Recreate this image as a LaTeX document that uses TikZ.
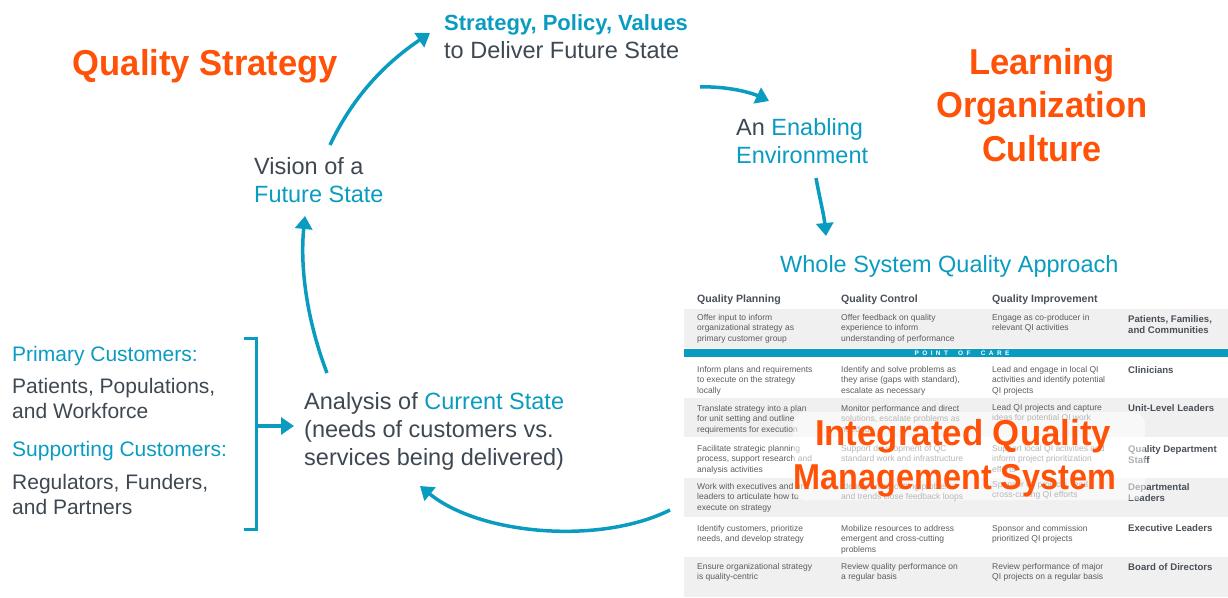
\documentclass[tikz,border=0pt]{standalone}
\usepackage{fontspec}
\usepackage{graphicx}
\setmainfont{Liberation Sans}
\usetikzlibrary{arrows.meta}
\definecolor{qorange}{HTML}{FF5208}
\definecolor{qteal}{HTML}{0A9CC0}
\definecolor{qgray}{HTML}{3E4852}
\definecolor{tgray}{HTML}{5C5C5C}
\definecolor{rowgray}{HTML}{F0F0F0}
\definecolor{lblgray}{HTML}{4A5058}
\tikzset{
  bigtitle/.style={font=\bfseries\fontsize{36}{44}\selectfont, text=qorange, inner sep=0, anchor=base},
  body/.style={font=\fontsize{23.5}{28}\selectfont, text=qgray, inner sep=0, anchor=base west},
  cust/.style={font=\fontsize{21}{25}\selectfont, text=qgray, inner sep=0, anchor=base west},
  hdr/.style={font=\bfseries\fontsize{10.6}{12}\selectfont, text=lblgray, inner sep=0, anchor=base west},
  cell/.style={font=\fontsize{8.5}{10.4}\selectfont, text=tgray, inner sep=0, anchor=north west, align=left},
  rlabel/.style={font=\bfseries\fontsize{9.6}{11.2}\selectfont, text=lblgray, inner sep=0, anchor=north west, align=left},
  flow/.style={qteal, line width=3.5pt, -{Triangle[length=13pt,width=17pt]}},
  bracket/.style={qteal, line width=3pt},
}
\newcommand{\tl}[1]{\textcolor{qteal}{#1}}
\newcommand{\sx}[2]{\scalebox{#1}[1]{#2}}
\newcommand{\lsp}{\hspace{3.4pt}}
\newcommand{\wsp}{\hspace{10.2pt}}
\begin{document}
\begin{tikzpicture}[x=1pt,y=-1pt]
\useasboundingbox (0,0) rectangle (1228,597);
% table background
\fill[rowgray] (684,309) rectangle (1228,348);
\fill[qteal] (684,349) rectangle (1228,357);
\fill[rowgray] (684,398) rectangle (1228,437);
\fill[rowgray] (684,478) rectangle (1228,517);
\fill[rowgray] (684,557) rectangle (1228,597);
\node[font=\bfseries\fontsize{6.5}{7}\selectfont, text=white, inner sep=0] (poc) at (962,353) {P\lsp O\lsp I\lsp N\lsp T\wsp O\lsp F\wsp C\lsp A\lsp R\lsp E};
% headers
\node[hdr] (h1) at (697,302.5) {Quality Planning};
\node[hdr] (h2) at (841,302.5) {Quality Control};
\node[hdr] (h3) at (992,302.5) {Quality Improvement};
% row 1
\node[cell] (c11) at (697,314) {Offer input to inform\\organizational strategy as\\primary customer group};
\node[cell] (c12) at (841,314) {Offer feedback on quality\\experience to inform\\understanding of performance};
\node[cell] (c13) at (992,314) {Engage as co-producer in\\relevant QI activities};
\node[rlabel] (r1) at (1128,315) {Patients, Families,\\and Communities};
% row 2
\node[cell] (c21) at (697,366) {Inform plans and requirements\\to execute on the strategy\\locally};
\node[cell] (c22) at (841,366) {Identify and solve problems as\\they arise (gaps with standard),\\escalate as necessary};
\node[cell] (c23) at (992,366) {Lead and engage in local QI\\activities and identify potential\\QI projects};
\node[rlabel] (r2) at (1128,366) {Clinicians};
% row 3
\node[cell] (c31) at (697,405) {Translate strategy into a plan\\for unit setting and outline\\requirements for execution};
\node[cell] (c32) at (841,405) {Monitor performance and direct\\solutions, escalate problems as\\needed};
\node[cell] (c33) at (992,404) {Lead QI projects and capture\\ideas for potential QI work};
\node[rlabel] (r3) at (1128,404) {Unit-Level Leaders};
% row 4
\node[cell] (c41) at (697,445) {Facilitate strategic planning\\process, support research and\\analysis activities};
\node[cell] (c42) at (841,445) {Support development of QC\\standard work and infrastructure};
\node[cell] (c43) at (992,445) {Support local QI activities and\\inform project prioritization\\efforts};
\node[rlabel] (r4) at (1128,445) {Quality Department\\Staff};
% row 5
\node[cell] (c51) at (697,483) {Work with executives and unit\\leaders to articulate how to\\execute on strategy};
\node[cell] (c52) at (841,483) {Identify cross-cutting problems\\and trends close feedback loops};
\node[cell] (c53) at (992,481) {Sponsor QI projects, lead\\cross-cutting QI efforts};
\node[rlabel] (r5) at (1128,483) {Departmental\\Leaders};
% row 6
\node[cell] (c61) at (697,525) {Identify customers, prioritize\\needs, and develop strategy};
\node[cell] (c62) at (841,525) {Mobilize resources to address\\emergent and cross-cutting\\problems};
\node[cell] (c63) at (992,525) {Sponsor and commission\\prioritized QI projects};
\node[rlabel] (r6) at (1128,524) {Executive Leaders};
% row 7
\node[cell] (c71) at (697,563) {Ensure organizational strategy\\is quality-centric};
\node[cell] (c72) at (841,563) {Review quality performance on\\a regular basis};
\node[cell] (c73) at (992,563) {Review performance of major\\QI projects on a regular basis};
\node[rlabel] (r7) at (1128,563) {Board of Directors};
% glow behind IQMS
\fill[white, opacity=0.55, rounded corners=12pt] (793,412) rectangle (1145,500);
\node[bigtitle] (iq1) at (963,445) {\sx{0.967}{Integrated Quality}};
\node[bigtitle] (iq2) at (955,489) {\sx{0.90}{Management System}};
% titles
\node[bigtitle] (qs) at (205.5,75) {\sx{0.96}{Quality Strategy}};
\node[bigtitle] (lo1) at (1042,74) {\sx{0.96}{Learning}};
\node[bigtitle] (lo2) at (1042,117) {\sx{0.96}{Organization}};
\node[bigtitle] (lo3) at (1042,161) {\sx{0.95}{Culture}};
% body texts
\node[body, font=\fontsize{22}{28}\selectfont\bfseries, text=qteal] (spv) at (444,30) {Strategy, Policy, Values};
\node[body] (tdf) at (444,58) {to Deliver Future State};
\node[body] (vis1) at (254,174) {Vision of a};
\node[body, text=qteal] (vis2) at (254,202) {Future State};
\node[body] (en1) at (736,135) {An \tl{Enabling}};
\node[body, text=qteal] (en2) at (736,163) {Environment};
\node[body, text=qteal] (wsq) at (780,272) {Whole System Quality Approach};
\node[body] (an1) at (304,409) {Analysis of \tl{Current State}};
\node[body] (an2) at (304,437) {(needs of customers vs.};
\node[body] (an3) at (304,465) {services being delivered)};
\node[cust, text=qteal] (pc1) at (12,361) {Primary Customers:};
\node[cust] (pc2) at (12,393) {Patients, Populations,};
\node[cust] (pc3) at (12,418) {and Workforce};
\node[cust, text=qteal] (sc1) at (12,456) {Supporting Customers:};
\node[cust] (sc2) at (12,489) {Regulators, Funders,};
\node[cust] (sc3) at (12,514) {and Partners};
% bracket
\coordinate (bt) at (244,338);
\coordinate (bb) at (244,529);
\coordinate (bm) at (256,426);
\coordinate (bmtip) at (294,426);
\draw[bracket] (bt) -- ++(12,0) |- (bb);
\draw[flow] (bm) -- (bmtip);
% cycle arrows
\coordinate (a1s) at (327,373);
\coordinate (a1e) at (305,216);
\draw[flow] (a1s) .. controls (306,318) and (300,265) .. (a1e);
\coordinate (a2s) at (330,145);
\coordinate (a2e) at (430,33);
\draw[flow] (a2s) .. controls (355,92) and (390,60) .. (a2e);
\coordinate (a3s) at (700,87);
\coordinate (a3e) at (769,101);
\draw[flow] (a3s) .. controls (728,86) and (752,93) .. (a3e);
\coordinate (a4s) at (816,178);
\coordinate (a4e) at (826,236);
\draw[flow] (a4s) .. controls (820,200) and (824,215) .. (a4e);
\coordinate (a5s) at (670,510);
\coordinate (a5e) at (420,486);
\draw[flow] (a5s) .. controls (600,545) and (480,535) .. (a5e);
\end{tikzpicture}
\end{document}
